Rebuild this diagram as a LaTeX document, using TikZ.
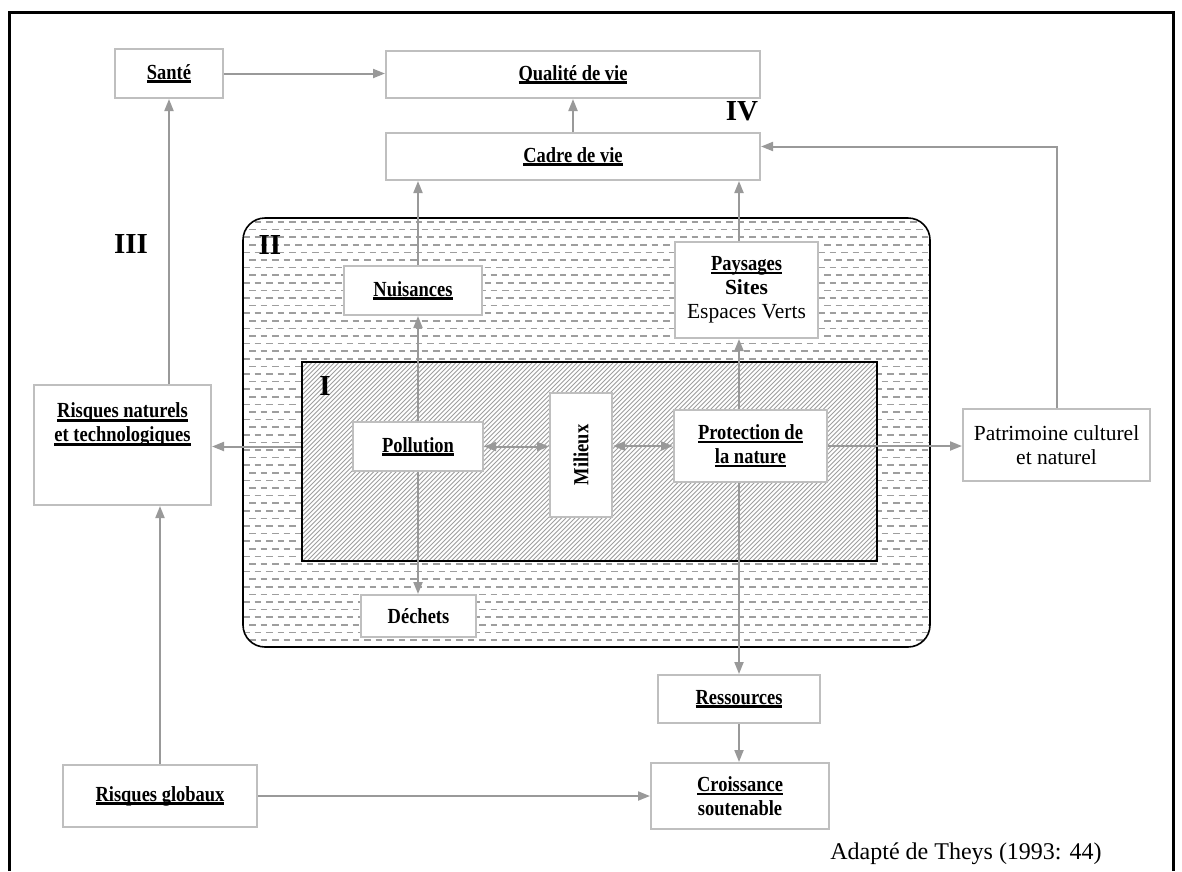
\documentclass[tikz,border=0pt]{standalone}
\usepackage{fontspec}
\setmainfont{Liberation Serif}
\newfontfamily\etroite{Liberation Serif}[FakeStretch=0.86]
\usetikzlibrary{arrows.meta}

\newsavebox\soulbox
\newcommand{\souligne}[1]{\sbox\soulbox{#1}\rlap{\rule[-3.6pt]{\wd\soulbox}{2.4pt}}\usebox\soulbox}

\tikzset{
  boite/.style={draw=black!25, line width=2pt, fill=white, align=center, inner sep=2pt,
    font=\etroite\bfseries\fontsize{21.5}{24}\selectfont},
  boitefine/.style={boite, font=\fontsize{21.5}{24}\selectfont},
  fleche/.style={draw=black!40, line width=2pt},
  tiret/.style={draw=black!38, line width=1.5pt, dash pattern=on 6.5pt off 5pt},
  hachure/.style={draw=black!38, line width=0.8pt},
  romain/.style={font=\bfseries\fontsize{29}{30}\selectfont},
}

\begin{document}
\begin{tikzpicture}[x=1pt, y=-1pt, >={Triangle[length=12pt,width=9pt]}]
\useasboundingbox (0,0) rectangle (1182,871);

% cadre general
\draw[line width=3pt] (9,871) -- (9,12) -- (1173,12) -- (1173,871);

% zone II (tirets)
\begin{scope}
  \clip[rounded corners=22pt] (243,218) rectangle (930,647);
  \fill[white] (243,218) rectangle (930,647);
  \foreach \r in {0,...,56} {
    \pgfmathsetmacro\yy{222+7.6*\r}
    \pgfmathsetmacro\ph{mod(\r,2)*5.5}
    \draw[tiret, dash phase=\ph pt] (243,\yy) -- (930,\yy);
  }
\end{scope}
\draw[line width=1.6pt, rounded corners=22pt] (243,218) rectangle (930,647);

% zone I (hachures)
\begin{scope}
  \clip (302,362) rectangle (877,561);
  \fill[white] (302,362) rectangle (877,561);
  \foreach \d in {100,104.5,...,880}
    \draw[hachure] (\d,561) -- ++(200,-200);
\end{scope}
\node[draw=black, line width=1.6pt, minimum width=575pt, minimum height=199pt, inner sep=0pt] (regI) at (589.5,461.5) {};

% numeros des zones
\node[romain] (numI) at (325,386) {I};
\node[romain] (numII) at (270,245) {II};
\node[romain] (numIII) at (131,244) {III};
\node[romain] (numIV) at (742,111) {IV};

% boites
\node[boite, minimum width=108pt, minimum height=49pt] (sante) at (169,73.5) {\souligne{Santé}};
\node[boite, minimum width=374pt, minimum height=47pt] (qualite) at (573,74.5) {\souligne{Qualité de vie}};
\node[boite, minimum width=374pt, minimum height=47pt] (cadre) at (573,156.5) {\souligne{Cadre de vie}};
\node[boite, minimum width=138pt, minimum height=49pt] (nuisances) at (413,290.5) {\souligne{Nuisances}};
\node[boite, minimum width=143pt, minimum height=96pt] (paysages) at (746.5,290)
  {\souligne{Paysages}\\{\rmfamily Sites}\\{\rmfamily\mdseries Espaces Verts}};
\node[boite, minimum width=130pt, minimum height=49pt] (pollution) at (418,446.5) {\souligne{Pollution}};
\node[boite, minimum width=62pt, minimum height=124pt] (milieux) at (581,455) {\rotatebox{90}{Milieux}};
\node[boite, minimum width=153pt, minimum height=72pt] (protection) at (750.5,446) {\souligne{Protection de}\\\souligne{la nature}};
\node[boitefine, minimum width=187pt, minimum height=72pt] (patrimoine) at (1056.5,445) {Patrimoine culturel\\et naturel};
\node[boite, minimum width=177pt, minimum height=120pt] (risnat) at (122.5,445) {};
\node[boite, draw=none, fill=none, anchor=north] (risnattxt) at ([yshift=-16pt]risnat.north)
  {\souligne{Risques naturels}\\\souligne{et technologiques}};
\node[boite, minimum width=115pt, minimum height=42pt] (dechets) at (418.5,616) {Déchets};
\node[boite, minimum width=162pt, minimum height=48pt] (ressources) at (739,699) {\souligne{Ressources}};
\node[boite, minimum width=178pt, minimum height=66pt] (croissance) at (740,796) {\souligne{Croissance}\\soutenable};
\node[boite, minimum width=194pt, minimum height=62pt] (risglob) at (160,796) {\souligne{Risques globaux}};

\node[font=\fontsize{24}{26}\selectfont] (source) at (966,854) {Adapté de Theys (1993: 44)};

% fleches
\draw[fleche, ->] (sante.east) -- (qualite.west |- sante.east);
\draw[fleche, ->] (risnat.north -| sante) -- (sante.south);
\draw[fleche, ->] (cadre.north) -- (qualite.south);
\draw[fleche, ->] (nuisances.north -| pollution) -- (cadre.south -| pollution);
\draw[fleche, ->] (pollution.north) -- (nuisances.south -| pollution);
\draw[fleche, ->] (pollution.south) -- (dechets.north -| pollution);
\draw[fleche, <->] (pollution.east) -- (milieux.west |- pollution.east);
\draw[fleche, <->] (milieux.east |- protection) -- (protection.west);
\draw[fleche, ->] (protection.north -| ressources) -- (paysages.south -| ressources);
\draw[fleche, ->] (paysages.north -| ressources) -- (cadre.south -| ressources);
\draw[fleche, ->] (protection.south -| ressources) -- (ressources.north);
\draw[fleche, ->] (ressources.south) -- (croissance.north -| ressources);
\draw[fleche, ->] (protection.east) -- (patrimoine.west |- protection.east);
\draw[fleche, ->] (patrimoine.north) |- ([yshift=10pt]cadre.east);
\draw[fleche, ->] (regI.west |- pollution) -- (risnat.east |- pollution);
\draw[fleche, ->] (risglob.east) -- (croissance.west |- risglob.east);
\draw[fleche, ->] (risglob.north) -- (risnat.south -| risglob.north);

\end{tikzpicture}
\end{document}
